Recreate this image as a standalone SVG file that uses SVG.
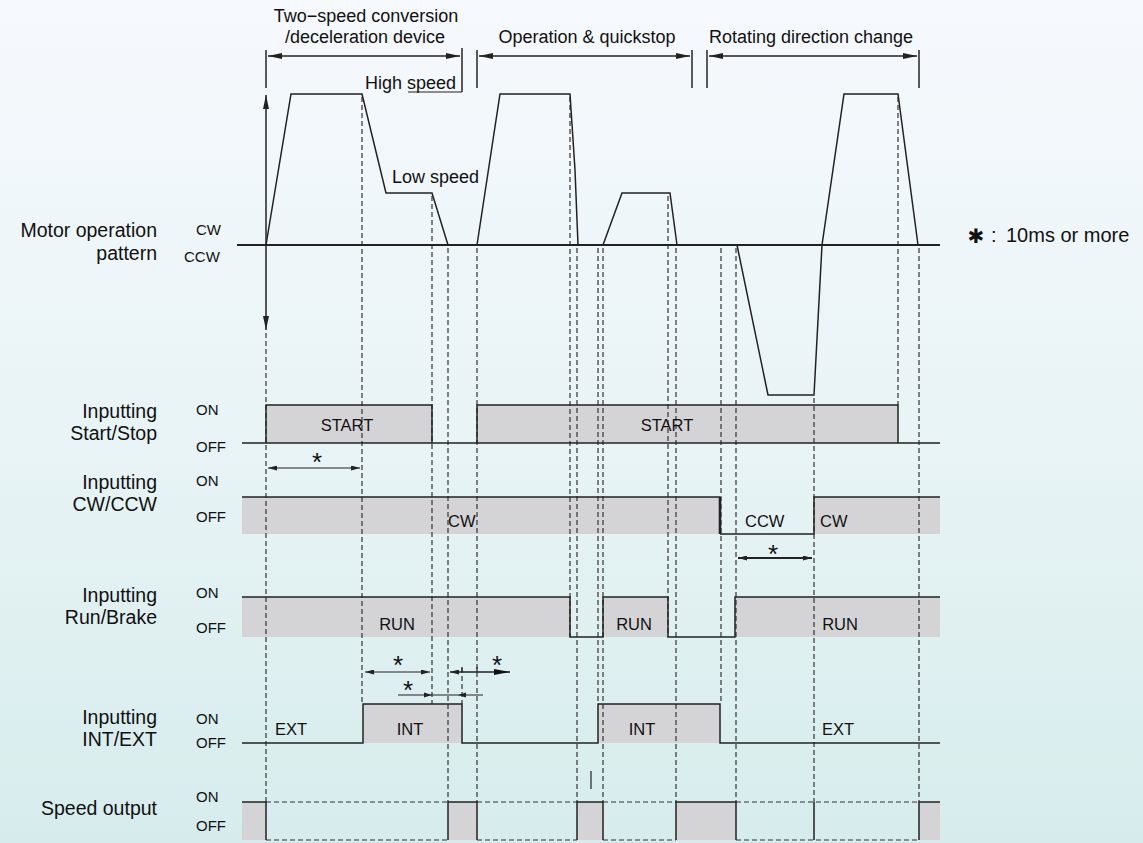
<svg xmlns="http://www.w3.org/2000/svg" width="1143" height="843" viewBox="0 0 1143 843">
<defs>
<linearGradient id="bg" x1="0" y1="0" x2="0" y2="1">
<stop offset="0" stop-color="#f6f9fd"/>
<stop offset="0.5" stop-color="#e9f4f6"/>
<stop offset="1" stop-color="#d6ecec"/>
</linearGradient>
<marker id="ah" viewBox="0 0 14 6" refX="14" refY="3" markerWidth="14" markerHeight="6" markerUnits="userSpaceOnUse" orient="auto-start-reverse"><path d="M0,0 L14,3 L0,6 z" fill="#222"/></marker>
<marker id="sh" viewBox="0 0 9 5" refX="9" refY="2.5" markerWidth="9" markerHeight="5" markerUnits="userSpaceOnUse" orient="auto-start-reverse"><path d="M0,0 L9,2.5 L0,5 z" fill="#222"/></marker>
<marker id="bh" viewBox="0 0 16 6" refX="16" refY="3" markerWidth="16" markerHeight="6" markerUnits="userSpaceOnUse" orient="auto-start-reverse"><path d="M0,0 L16,3 L0,6 z" fill="#111"/></marker>
</defs>
<style>
.t{font-family:"Liberation Sans",Arial,sans-serif;fill:#111}
.lbl{font-size:19.5px;text-anchor:end}
.st{font-size:15px}
.hd{font-size:18px;text-anchor:middle}
.wl{font-size:16.5px}
.ast{font-size:26px;text-anchor:middle}
.ln{stroke:#222;stroke-width:1.5;fill:none}
.tk{stroke:#333;stroke-width:1.6;fill:none}
.dl{stroke:#333;stroke-width:1.2;stroke-dasharray:5 3;fill:none}
.g{fill:#d4d4d6}
</style>
<rect x="0" y="0" width="1143" height="843" fill="url(#bg)"/>

<g id="headers">
<text class="t hd" x="366" y="22">Two−speed conversion</text>
<text class="t hd" x="365" y="43">/deceleration device</text>
<text class="t hd" x="587" y="43">Operation &amp; quickstop</text>
<text class="t hd" x="811" y="43">Rotating direction change</text>
<path class="tk" d="M266,50 V88 M462,48 V92 M477,50 V88 M692,50 V88 M707,50 V88 M919,50 V88"/>
<path class="ln" d="M268,56 H460" marker-start="url(#ah)" marker-end="url(#ah)"/>
<path class="ln" d="M479,56 H690" marker-start="url(#ah)" marker-end="url(#ah)"/>
<path class="ln" d="M709,56 H917" marker-start="url(#ah)" marker-end="url(#ah)"/>
<text class="t" x="365" y="89" style="font-size:18px">High speed</text>
<path class="ln" d="M408,92 H462" style="stroke-width:1.2"/>
<text class="t" x="392" y="183" style="font-size:18px">Low speed</text>
</g>

<g id="row-labels">
<text class="t lbl" x="157" y="237">Motor operation</text>
<text class="t lbl" x="157" y="260">pattern</text>
<text class="t st" x="196" y="235">CW</text>
<text class="t st" x="184" y="262">CCW</text>
<text class="t lbl" x="157" y="418">Inputting</text>
<text class="t lbl" x="157" y="440">Start/Stop</text>
<text class="t st" x="196" y="415">ON</text>
<text class="t st" x="196" y="452">OFF</text>
<text class="t lbl" x="157" y="489">Inputting</text>
<text class="t lbl" x="157" y="511">CW/CCW</text>
<text class="t st" x="196" y="486">ON</text>
<text class="t st" x="196" y="522">OFF</text>
<text class="t lbl" x="157" y="602">Inputting</text>
<text class="t lbl" x="157" y="624">Run/Brake</text>
<text class="t st" x="196" y="598">ON</text>
<text class="t st" x="196" y="633">OFF</text>
<text class="t lbl" x="157" y="724">Inputting</text>
<text class="t lbl" x="157" y="746">INT/EXT</text>
<text class="t st" x="196" y="724">ON</text>
<text class="t st" x="196" y="748">OFF</text>
<text class="t lbl" x="157" y="815">Speed output</text>
<text class="t st" x="196" y="802">ON</text>
<text class="t st" x="196" y="831">OFF</text>
</g>

<g id="fills">
<rect class="g" x="266" y="405" width="166" height="38"/>
<rect class="g" x="477" y="405" width="421" height="38"/>
<rect class="g" x="242" y="497" width="478" height="37"/>
<rect class="g" x="814" y="497" width="126" height="37"/>
<rect class="g" x="242" y="597" width="328" height="40"/>
<rect class="g" x="603" y="597" width="65" height="40"/>
<rect class="g" x="735" y="597" width="205" height="40"/>
<rect class="g" x="363" y="704" width="99" height="39"/>
<rect class="g" x="598" y="704" width="122" height="39"/>
<rect class="g" x="242" y="802" width="24" height="38"/>
<rect class="g" x="448" y="802" width="29" height="38"/>
<rect class="g" x="577" y="802" width="26" height="38"/>
<rect class="g" x="676" y="802" width="60" height="38"/>
<rect class="g" x="919" y="802" width="21" height="38"/>
</g>

<g id="connectors">
<path class="dl" d="M266,333 V802 M362,97 V704 M432,196 V704 M448,248 V802 M462,668 V704 M477,248 V802 M570,97 V637 M577,248 V802 M598,248 V704 M603,248 V802 M668,196 V637 M676,248 V802 M721,248 V704 M736,248 V802 M814,398 V802 M898,97 V405 M919,248 V802"/>
<path class="dl" d="M266,802 H448 M477,802 H577 M603,802 H676 M736,802 H919 M266,840 H448 M477,840 H577 M603,840 H676 M736,840 H919"/>
<path class="ln" d="M591,771 V789" style="stroke-width:1.2"/>
</g>

<g id="motor-pattern">
<path class="ln" d="M237,245 H940" style="stroke-width:1.8"/>
<path class="ln" d="M266,245 V95" marker-end="url(#ah)"/>
<path class="ln" d="M266,245 V330" marker-end="url(#ah)"/>
<path class="ln" d="M266,245 L291,94 L362,94 L386,193 L432,193 L448,245"/>
<path class="ln" d="M477,245 L500,94 L570,94 L575,170 L578,245"/>
<path class="ln" d="M603,245 L622,193 L670,193 L677,245"/>
<path class="ln" d="M737,245 L768,395 L814,395 L822,245 L844,94 L898,94 L918,245"/>
</g>

<g id="start-stop">
<path class="ln" d="M242,443 H940 M266,443 V405 H432 V443 M477,443 V405 H898 V443"/>
<text class="t wl" x="347" y="431" text-anchor="middle">START</text>
<text class="t wl" x="667" y="431" text-anchor="middle">START</text>
</g>

<g id="cw-ccw">
<path class="ln" d="M242,497 H720 M720,534 H814 V497 H940"/>
<path class="ln" d="M720,497 V534" style="stroke-width:2.6"/>
<text class="t wl" x="448" y="527">CW</text>
<text class="t wl" x="745" y="527">CCW</text>
<text class="t wl" x="820" y="527">CW</text>
</g>

<g id="run-brake">
<path class="ln" d="M242,597 H570 V637 H603 V597 H668 V637 H735 V597 H940"/>
<text class="t wl" x="397" y="630" text-anchor="middle">RUN</text>
<text class="t wl" x="634" y="630" text-anchor="middle">RUN</text>
<text class="t wl" x="840" y="630" text-anchor="middle">RUN</text>
</g>

<g id="int-ext">
<path class="ln" d="M242,743 H363 V704 H462 V743 H598 V704 H720 V743 H940"/>
<text class="t wl" x="275" y="735">EXT</text>
<text class="t wl" x="410" y="735" text-anchor="middle">INT</text>
<text class="t wl" x="642" y="735" text-anchor="middle">INT</text>
<text class="t wl" x="822" y="735">EXT</text>
</g>

<g id="speed-output">
<path class="ln" d="M242,802 H266 V840 M448,840 V802 H477 V840 M577,840 V802 H603 V840 M676,840 V802 H736 V840 M919,840 V802 H940 M814,802 V840"/>
</g>

<g id="timing-marks">
<path class="ln" d="M268,468 H360" style="stroke-width:1.2" marker-start="url(#sh)" marker-end="url(#sh)"/>
<text class="t ast" x="317" y="471">*</text>
<path class="ln" d="M738,558 H812" style="stroke-width:2.2" marker-start="url(#sh)" marker-end="url(#sh)"/>
<text class="t ast" x="773" y="563">*</text>
<path class="ln" d="M365,672 H430" style="stroke-width:1.2" marker-start="url(#sh)" marker-end="url(#sh)"/>
<text class="t ast" x="398" y="674">*</text>
<path class="ln" d="M398,695 H483" style="stroke-width:1.2"/>
<path d="M424,692.5 L432,695 L424,697.5 z M466,692.5 L458,695 L466,697.5 z" fill="#222"/>
<text class="t ast" x="408" y="699">*</text>
<path class="ln" d="M450,672 H510" style="stroke-width:1.4" marker-start="url(#sh)" marker-end="url(#bh)"/>
<path class="ln" d="M462,667 V672 M477,667 V672" style="stroke-width:1.2"/>
<text class="t ast" x="497" y="674">*</text>
</g>

<g id="legend">
<text x="976" y="243" style="font-family:'DejaVu Sans',sans-serif;font-size:20px;fill:#111" text-anchor="middle">✱</text>
<text class="t" x="991" y="242" style="font-size:20px">:</text>
<text class="t" x="1006" y="242" style="font-size:20px">10ms or more</text>
</g>
</svg>
